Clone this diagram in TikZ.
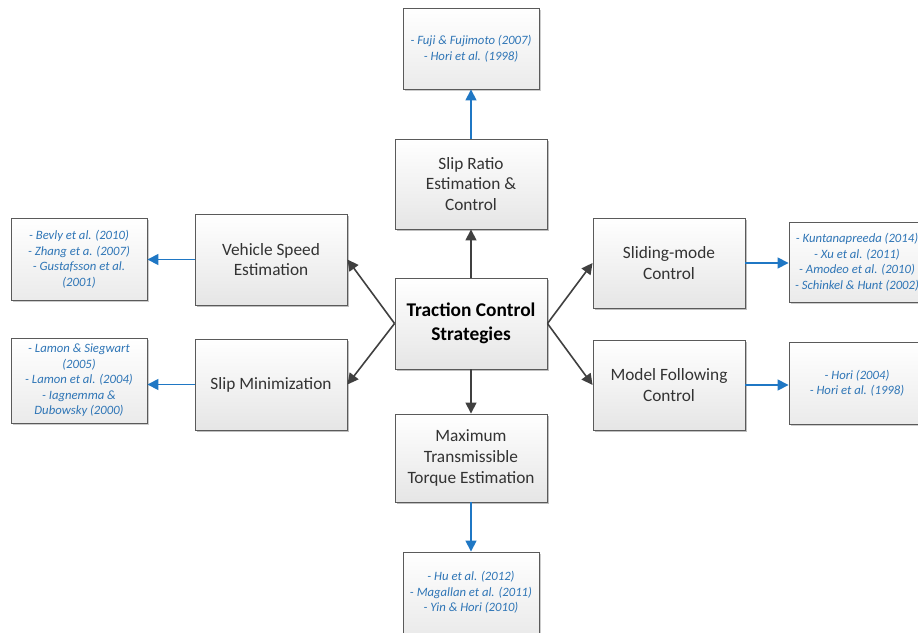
\documentclass[tikz,border=0pt]{standalone}
\usepackage{fontspec}
\setmainfont{Carlito}
\usetikzlibrary{arrows.meta,shadows}
\definecolor{arrgray}{HTML}{404040}
\definecolor{arrblue}{HTML}{1F77C4}
\definecolor{txtblue}{HTML}{2E75B6}
\definecolor{boxline}{HTML}{5A5A5A}
\tikzset{
  mainbox/.style={draw=boxline, line width=0.9pt, top color=white, bottom color=black!10,
    minimum width=152pt, minimum height=90pt, align=center, inner sep=2pt,
    font=\fontsize{17.3}{20.8}\selectfont, text=black!80,
    drop shadow={shadow xshift=2pt, shadow yshift=-2pt, opacity=0.25, fill=black}},
  refbox/.style={draw=boxline, line width=0.9pt, top color=white, bottom color=black!8,
    minimum width=136pt, minimum height=81pt, align=center, inner sep=2pt,
    font=\fontsize{12.7}{15.5}\selectfont\itshape, text=txtblue,
    drop shadow={shadow xshift=2pt, shadow yshift=-2pt, opacity=0.2, fill=black}},
  grayarr/.style={draw=arrgray, line width=1.6pt, -{Triangle[length=11pt,width=11pt]}},
  bluearr/.style={draw=arrblue, line width=1.6pt, -{Triangle[length=11pt,width=11pt]}},
}
\begin{document}
\begin{tikzpicture}[x=1pt,y=-1pt]
\useasboundingbox (0,0) rectangle (918,632);
% main boxes
\node[mainbox] (slipratio) at (471,184) {Slip Ratio\\Estimation \&\\Control};
\node[mainbox, minimum height=91pt, font=\fontsize{19.4}{24}\selectfont\bfseries, text=black] (center) at (471,323.5) {Traction Control\\Strategies};
\node[mainbox, minimum height=88pt] (maxtorque) at (471,458) {Maximum\\Transmissible\\Torque Estimation};
\node[mainbox, minimum height=91pt] (vspeed) at (271,259.5) {Vehicle Speed\\Estimation};
\node[mainbox, minimum height=91pt] (slipmin) at (271,384.5) {Slip Minimization};
\node[mainbox] (sliding) at (669,263) {Sliding-mode\\Control};
\node[mainbox] (model) at (669,385) {Model Following\\Control};
% reference boxes
\node[refbox] (topref) at (471,48.5) {- Fuji \& Fujimoto (2007)\\- Hori et al. (1998)};
\node[refbox] (botref) at (471,592.5) {- Hu et al. (2012)\\- Magallan et al. (2011)\\- Yin \& Hori (2010)};
\node[refbox, minimum height=82pt] (lref1) at (79,259) {- Bevly et al. (2010)\\- Zhang et a. (2007)\\- Gustafsson et al.\\(2001)};
\node[refbox, minimum height=85pt] (lref2) at (79,380.5) {- Lamon \& Siegwart\\(2005)\\- Lamon et al. (2004)\\- Iagnemma \&\\Dubowsky (2000)};
\node[refbox, minimum height=80pt] (rref1) at (857,262) {- Kuntanapreeda (2014)\\- Xu et al. (2011)\\- Amodeo et al. (2010)\\- Schinkel \& Hunt (2002)};
\node[refbox, minimum height=82pt] (rref2) at (857,383) {- Hori (2004)\\- Hori et al. (1998)};
% gray connectors
\draw[grayarr] (center.north) -- (slipratio.south);
\draw[grayarr] (center.south) -- (maxtorque.north);
\draw[grayarr] (center.west) -- (vspeed.east);
\draw[grayarr] (center.west) -- (slipmin.east);
\draw[grayarr] (center.east) -- (sliding.west);
\draw[grayarr] (center.east) -- (model.west);
% blue connectors
\draw[bluearr] (slipratio.north) -- (topref.south);
\draw[bluearr] (maxtorque.south) -- (botref.north);
\draw[bluearr] (vspeed.west) -- (vspeed.west -| lref1.east);
\draw[bluearr] (slipmin.west) -- (slipmin.west -| lref2.east);
\draw[bluearr] (sliding.east) -- (sliding.east -| rref1.west);
\draw[bluearr] (model.east) -- (model.east -| rref2.west);
\end{tikzpicture}
\end{document}
